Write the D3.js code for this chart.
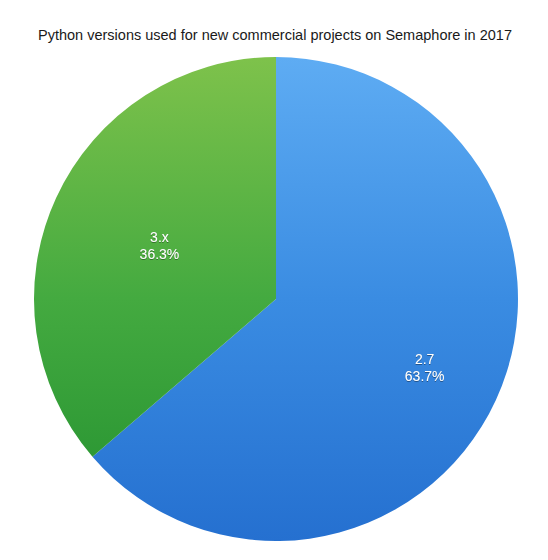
<!DOCTYPE html>
<html>
<head>
<meta charset="utf-8">
<script src="https://cdn.jsdelivr.net/npm/d3@7"></script>
<style>
  body { margin: 0; background: #fff; }
  text { font-family: "Liberation Sans", Arial, sans-serif; }
</style>
</head>
<body>
<script>
const versions = ['2.7', '3.x'];
const shares = [63.7, 36.3];

const width = 548;
const height = 560;
const cx = 276, cy = 299, radius = 242;

const svg = d3.select('body')
  .append('svg')
  .attr('width', width)
  .attr('height', height);

const defs = svg.append('defs');

// vertical gradients, lighter at the top (coords are relative to the pie centre)
const grads = [
  { id: 'g-blue', stops: ['#5eacf3', '#3a8ce2', '#2570d0'] },
  { id: 'g-green', stops: ['#7ec24b', '#44aa40', '#22902f'] }
];
grads.forEach(g => {
  const lg = defs.append('linearGradient')
    .attr('id', g.id)
    .attr('gradientUnits', 'userSpaceOnUse')
    .attr('x1', 0).attr('y1', -radius)
    .attr('x2', 0).attr('y2', radius);
  g.stops.forEach((c, i) => {
    lg.append('stop')
      .attr('offset', (i / (g.stops.length - 1) * 100) + '%')
      .attr('stop-color', c);
  });
});

const shadow = defs.append('filter').attr('id', 'txtshadow')
  .attr('x', '-20%').attr('y', '-20%').attr('width', '140%').attr('height', '140%');
shadow.append('feDropShadow')
  .attr('dx', 0).attr('dy', 0.6).attr('stdDeviation', 0.6)
  .attr('flood-color', '#000').attr('flood-opacity', 0.6);

const color = d3.scaleOrdinal()
  .domain(versions)
  .range(['url(#g-blue)', 'url(#g-green)']);

const data = versions.map((v, i) => ({ version: v, share: shares[i] }));

const pie = d3.pie().value(d => d.share).sort(null);
const arc = d3.arc().innerRadius(0).outerRadius(radius);

// title
svg.append('text')
  .attr('x', 275)
  .attr('y', 40)
  .attr('text-anchor', 'middle')
  .attr('font-size', '14.5px')
  .attr('fill', '#1a1a1a')
  .text('Python versions used for new commercial projects on Semaphore in 2017');

const g = svg.append('g').attr('transform', `translate(${cx},${cy})`);

g.selectAll('path.slice')
  .data(pie(data))
  .enter()
  .append('path')
  .attr('class', 'slice')
  .attr('d', arc)
  .attr('fill', d => color(d.data.version));

// label radius per slice (fraction of radius)
const labelFrac = { '2.7': 0.676, '3.x': 0.53 };

const labels = g.selectAll('g.label')
  .data(pie(data))
  .enter()
  .append('g')
  .attr('class', 'label')
  .attr('transform', d => {
    const a = (d.startAngle + d.endAngle) / 2;
    const r = radius * labelFrac[d.data.version];
    return `translate(${r * Math.sin(a)},${-r * Math.cos(a)})`;
  })
  .attr('filter', 'url(#txtshadow)');

labels.append('text')
  .attr('text-anchor', 'middle')
  .attr('y', -3)
  .attr('font-size', '14px')
  .attr('fill', '#fff')
  .text(d => d.data.version);

labels.append('text')
  .attr('text-anchor', 'middle')
  .attr('y', 13.5)
  .attr('font-size', '14px')
  .attr('fill', '#fff')
  .text(d => d.data.share.toFixed(1) + '%');
</script>
</body>
</html>
